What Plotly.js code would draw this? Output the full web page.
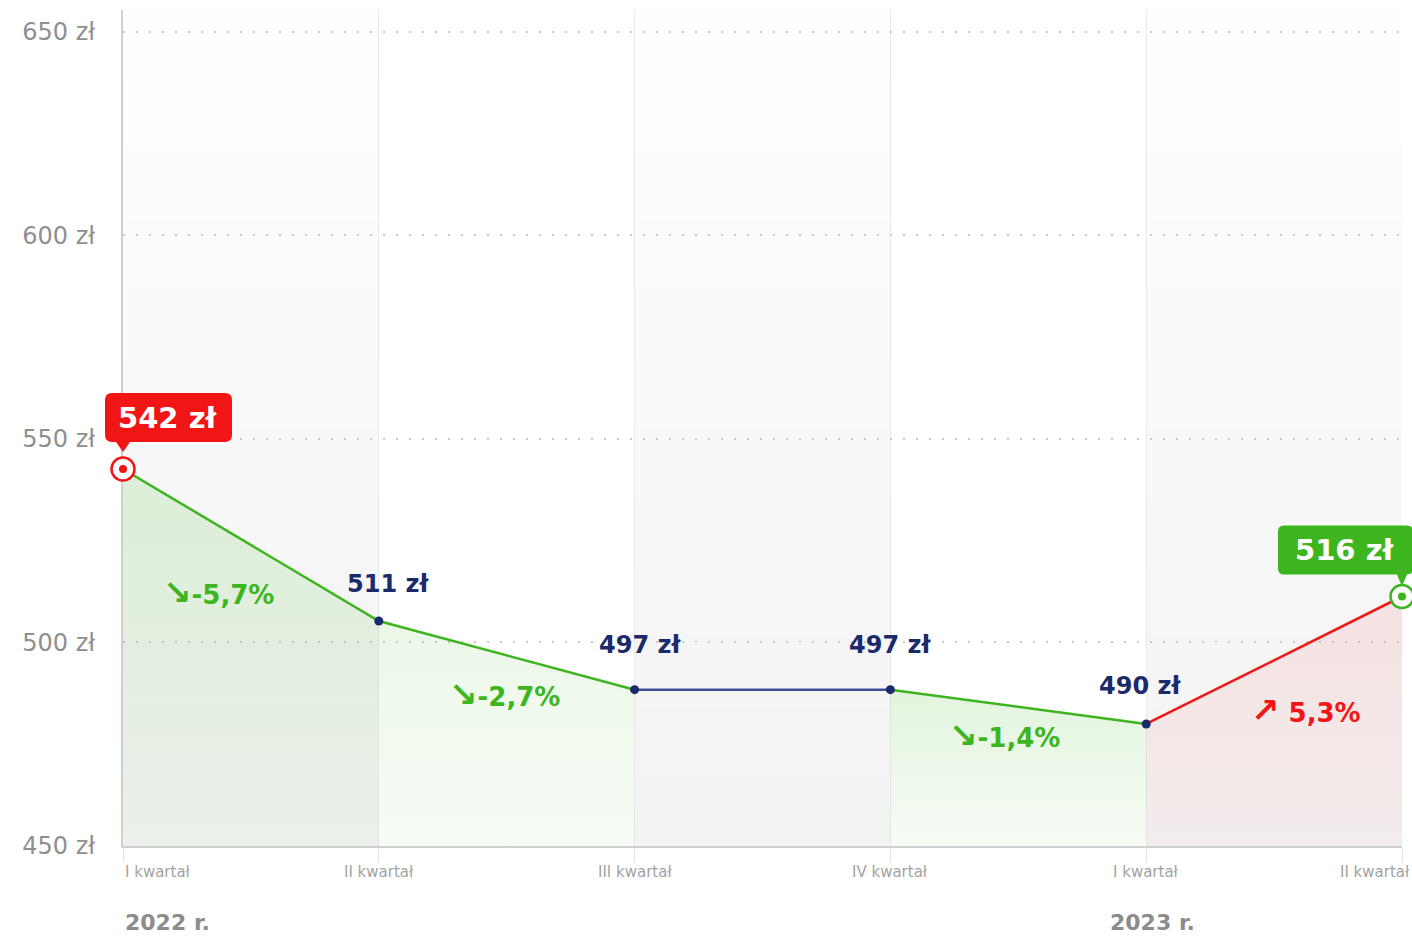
<!DOCTYPE html>
<html>
<head>
<meta charset="utf-8">
<script src="https://cdn.plot.ly/plotly-3.0.1.min.js"></script>
<style>html,body{margin:0;padding:0;background:#fff;}#chart{width:1412px;height:936px;}</style>
</head>
<body>
<div id="chart"></div>
<script>
// ---- data ----
const quarters = ['I kwartał','II kwartał','III kwartał','IV kwartał','I kwartał','II kwartał'];
const years = ['2022 r.','','','','2023 r.',''];
const prices = [542, 511, 497, 497, 490, 516];
const changes = ['-5,7%', '-2,7%', null, '-1,4%', '5,3%'];
const yTicks = [450, 500, 550, 600, 650];

// ---- styles ----
const GREEN = '#3db51f', RED = '#f21515', NAVY = '#1b2a6b', BLUE_LINE = '#3e4f9c';
const FONT = 'DejaVu Sans, sans-serif';
const xs = quarters.map((_, i) => i);

// empty trace so the labelled grid axis (y) gets its subplot
const traces = [{x: [], y: [], type: 'scatter', mode: 'lines', yaxis: 'y', hoverinfo: 'skip'}];
// segments grouped by direction
let segs = [];
for (let i = 0; i < prices.length - 1; i++) {
  const d = Math.sign(prices[i+1] - prices[i]);
  if (segs.length && segs[segs.length-1].d === d) segs[segs.length-1].idx.push(i+1);
  else segs.push({d, idx: [i, i+1]});
}
segs.forEach(s => {
  const col = s.d < 0 ? GREEN : (s.d > 0 ? RED : BLUE_LINE);
  const t = {
    x: s.idx.map(i => xs[i]), y: s.idx.map(i => prices[i]),
    type: 'scatter', mode: 'lines', yaxis: 'y2',
    line: {color: col, width: 2.5}, hoverinfo: 'skip'
  };
  if (s.d !== 0) {
    const rgb = s.d < 0 ? '61,181,31' : '242,21,21';
    const a0 = s.d < 0 ? 0.04 : 0.03, a1 = s.d < 0 ? 0.15 : 0.09;
    t.fill = 'tozeroy';
    t.fillgradient = {type: 'vertical', start: 465, stop: Math.max(...s.idx.map(i => prices[i])),
      colorscale: [[0, 'rgba(' + rgb + ',' + a0 + ')'], [1, 'rgba(' + rgb + ',' + a1 + ')']]};
  }
  traces.push(t);
});
// small dots
const mid = xs.slice(1, -1);
traces.push({x: mid, y: prices.slice(1, -1), type: 'scatter', mode: 'markers', yaxis: 'y2',
  marker: {color: NAVY, size: 9}, cliponaxis: false, hoverinfo: 'skip'});
// end rings
const last = prices.length - 1;
const firstCol = RED, lastCol = GREEN;
[[0, firstCol], [last, lastCol]].forEach(([i, c]) => {
  traces.push({x: [xs[i]], y: [prices[i]], type: 'scatter', mode: 'markers', yaxis: 'y2',
    marker: {color: '#fff', size: 23, line: {color: c, width: 2.5}}, cliponaxis: false, hoverinfo: 'skip'});
  traces.push({x: [xs[i]], y: [prices[i]], type: 'scatter', mode: 'markers', yaxis: 'y2',
    marker: {color: c, size: 8}, cliponaxis: false, hoverinfo: 'skip'});
});

// ---- shapes ----
function boxPath(l, r, b, t, rad, ph, pw) {
  return `M ${l+rad} ${t} L ${r-rad} ${t} Q ${r} ${t} ${r} ${t-rad} L ${r} ${b+rad} Q ${r} ${b} ${r-rad} ${b} ` +
    `L ${pw} ${b} L 0 ${b-ph} L ${-pw} ${b} L ${l+rad} ${b} Q ${l} ${b} ${l} ${b+rad} L ${l} ${t-rad} Q ${l} ${t} ${l+rad} ${t} Z`;
}
const shapes = [];
const N = 12;
for (let i = 0; i < xs.length - 1; i += 2) {
  for (let k = 1; k <= N; k++) {
    shapes.push({type: 'rect', xref: 'x', yref: 'paper', x0: xs[i], x1: xs[i+1], y0: 0, y1: k / N,
      fillcolor: 'rgba(0,0,0,0.004)', line: {width: 0}, layer: 'below'});
  }
}
// label boxes: x anchored to the plot edges (first / last quarter), y to the value
shapes.push({type: 'path', xref: 'paper', yref: 'y2', xsizemode: 'pixel', ysizemode: 'pixel',
  xanchor: 0, yanchor: prices[0], path: boxPath(-18, 109, 27, 76, 7, 10, 7),
  fillcolor: firstCol, line: {width: 0}, layer: 'above'});
shapes.push({type: 'path', xref: 'paper', yref: 'y2', xsizemode: 'pixel', ysizemode: 'pixel',
  xanchor: 1, yanchor: prices[last], path: boxPath(-124, 11, 22, 71, 6, 12, 5),
  fillcolor: lastCol, line: {width: 0}, layer: 'above'});

// ---- annotations ----
const ann = [];
const fmt = v => v + ' zł';
ann.push({x: xs[0], y: prices[0], xref: 'x', yref: 'y2', text: '<b>' + fmt(prices[0]) + '</b>', showarrow: false,
  xshift: 45, yshift: 51, font: {family: FONT, size: 29, color: '#fff'}});
ann.push({x: xs[last], y: prices[last], xref: 'x', yref: 'y2', text: '<b>' + fmt(prices[last]) + '</b>', showarrow: false,
  xshift: -57, yshift: 46, font: {family: FONT, size: 29, color: '#fff'}});
const valShift = [null, [9, 37], [5, 45], [0, 45], [-6, 38], null];
for (let i = 1; i < last; i++) {
  ann.push({x: xs[i], y: prices[i], xref: 'x', yref: 'y2', text: '<b>' + fmt(prices[i]) + '</b>', showarrow: false,
    xshift: valShift[i][0], yshift: valShift[i][1], font: {family: FONT, size: 24, color: NAVY}});
}
const chShift = [[-32, -47], [-2, -39], null, [-14, -28], [32, -50]];
changes.forEach((c, i) => {
  if (c === null) return;
  const up = prices[i+1] > prices[i];
  ann.push({x: (xs[i] + xs[i+1]) / 2, y: (prices[i] + prices[i+1]) / 2, xref: 'x', yref: 'y2',
    text: '<b><span style="font-size:34px">' + (up ? '↗' : '↘') + '</span>' + (up ? ' ' : '') + c + '</b>',
    showarrow: false, xshift: chShift[i][0], yshift: chShift[i][1],
    font: {family: FONT, size: 26, color: up ? RED : GREEN}});
});
quarters.forEach((q, i) => {
  ann.push({x: xs[i], y: 0, xref: 'x', yref: 'paper', text: q, showarrow: false,
    xanchor: i === 0 ? 'left' : (i === last ? 'right' : 'center'), yanchor: 'middle',
    xshift: i === last ? 10 : 0, yshift: -26, font: {family: FONT, size: 15, color: '#a3a3a3'}});
  if (years[i]) {
    ann.push({x: xs[i], y: 0, xref: 'x', yref: 'paper', text: '<b>' + years[i] + '</b>', showarrow: false,
      xanchor: i === 0 ? 'left' : 'center', yanchor: 'middle', xshift: i === 0 ? 0 : 6, yshift: -76,
      font: {family: FONT, size: 22, color: '#8c8c8c'}});
  }
});

const layout = {
  width: 1412, height: 936,
  margin: {l: 123, r: 10, t: 10, b: 90},
  paper_bgcolor: '#fff', plot_bgcolor: '#fff',
  showlegend: false, hovermode: false,
  xaxis: {range: [0, last], tickvals: xs, showticklabels: false, showgrid: true, gridcolor: '#e9e9e9', gridwidth: 1,
    zeroline: false, showline: true, linecolor: '#cfcfcf', linewidth: 2, ticks: 'outside', ticklen: 14, tickcolor: '#e2e2e2',
    layer: 'below traces'},
  yaxis: {range: [450, 655.3], tickvals: yTicks, ticktext: yTicks.map(fmt), showgrid: true, gridcolor: '#c9c9c9',
    gridwidth: 2, griddash: '2px,11px', zeroline: false, showline: true, linecolor: '#cfcfcf', linewidth: 2,
    ticks: '', ticklabelstandoff: 21, tickfont: {family: FONT, size: 24, color: '#8f8f8f'}, layer: 'below traces'},
  yaxis2: {range: [465.12, 635.6], overlaying: 'y', visible: false, showgrid: false, zeroline: false},
  shapes: shapes, annotations: ann
};
Plotly.newPlot('chart', traces, layout, {staticPlot: true, displayModeBar: false});
</script>
</body>
</html>
